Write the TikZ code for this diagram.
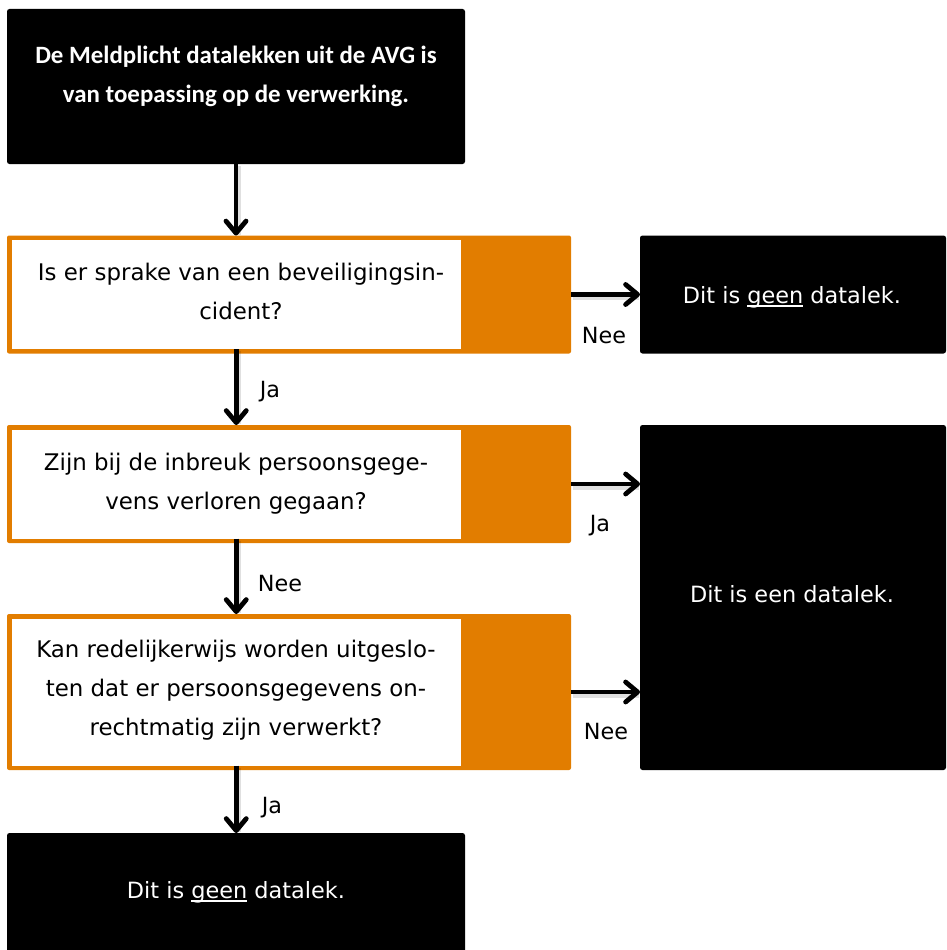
\documentclass[tikz,border=0pt]{standalone}
\usepackage{fontspec}
\setmainfont{DejaVu Sans}
\newfontfamily\topfont{Carlito}
\usetikzlibrary{arrows.meta}
\definecolor{orng}{RGB}{226,125,0}
\newcommand\ulgeen[1]{\setbox0\hbox{#1}\rlap{\rule[-4pt]{\wd0}{2.4pt}}\box0\relax}
\begin{document}
\begin{tikzpicture}[x=1pt,y=-1pt,
  blackbox/.style={fill=black, rounded corners=2.5pt, inner sep=0pt, outer sep=0pt},
  qbox/.style={fill=orng, rounded corners=2pt, inner sep=0pt, outer sep=0pt},
  qinner/.style={fill=white, inner sep=0pt, outer sep=0pt},
  txt/.style={font=\fontsize{22.9}{39}\selectfont, align=center, inner sep=0pt},
  wtxt/.style={txt, text=white},
  rtxt/.style={font=\fontsize{22.4}{26}\selectfont, text=white, inner sep=0pt, anchor=base},
  lbl/.style={font=\fontsize{22.3}{26}\selectfont, inner sep=0pt, anchor=base},
  flow/.style={line width=4.8pt, line join=round,
    -{Straight Barb[length=12pt,width=20pt,round]},
    preaction={draw=black, opacity=0.12, line width=7pt, shorten >=3pt, transform canvas={shift={(1.5pt,-2pt)}}, -}}
]
\useasboundingbox (0,0) rectangle (946,950);
% boxes
\node[blackbox, minimum width=458, minimum height=155] (top) at (236,86.5) {};
\node[qbox, minimum width=564, minimum height=118] (q1) at (289,294.5) {};
\node[qinner, minimum width=449.5, minimum height=109] (q1in) at (236.25,294.5) {};
\node[qbox, minimum width=564, minimum height=118] (q2) at (289,484) {};
\node[qinner, minimum width=449.5, minimum height=109] (q2in) at (236.25,484) {};
\node[qbox, minimum width=564, minimum height=156] (q3) at (289,692) {};
\node[qinner, minimum width=449.5, minimum height=147] (q3in) at (236.25,692) {};
\node[blackbox, minimum width=306, minimum height=118] (r1) at (793,294.5) {};
\node[blackbox, minimum width=306, minimum height=345] (big) at (793,597.5) {};
\node[blackbox, minimum width=458, minimum height=124] (bot) at (236,895) {};
% texts
\node[wtxt, font=\topfont\bfseries\fontsize{24.9}{39}\selectfont] (toptext) at (236,76.5)
  {De Meldplicht datalekken uit de AVG is\\van toepassing op de verwerking.};
\node[txt] (q1text) at (241,291.5)
  {Is er sprake van een beveiligingsin-\\cident?};
\node[txt] (q2text) at (236,483.5)
  {Zijn bij de inbreuk persoonsgege-\\vens verloren gegaan?};
\node[txt] (q3text) at (236,690.5)
  {Kan redelijkerwijs worden uitgeslo-\\ten dat er persoonsgegevens on-\\rechtmatig zijn verwerkt?};
\node[rtxt] (r1text) at (792,303) {Dit is \ulgeen{geen} datalek.};
\node[rtxt] (bigtext) at (792,602) {Dit is een datalek.};
\node[rtxt] (bottext) at (236,898) {Dit is \ulgeen{geen} datalek.};
% connectors
\draw[flow] (top.south) -- (top.south |- q1.north);
\draw[flow] (q1in.south) -- (q1in.south |- q2.north);
\draw[flow] (q2in.south) -- (q2in.south |- q3.north);
\draw[flow] (q3in.south) -- (q3in.south |- bot.north);
\draw[flow] (q1.east) -- (r1.west);
\draw[flow] (q2.east) -- (q2.east -| big.west);
\draw[flow] (q3.east) -- (q3.east -| big.west);
% labels
\node[lbl] (l1) at (604,343) {Nee};
\node[lbl] (l2) at (270,397) {Ja};
\node[lbl] (l3) at (600,531) {Ja};
\node[lbl] (l4) at (280,591) {Nee};
\node[lbl] (l5) at (606,739) {Nee};
\node[lbl] (l6) at (272,813) {Ja};
\end{tikzpicture}
\end{document}
